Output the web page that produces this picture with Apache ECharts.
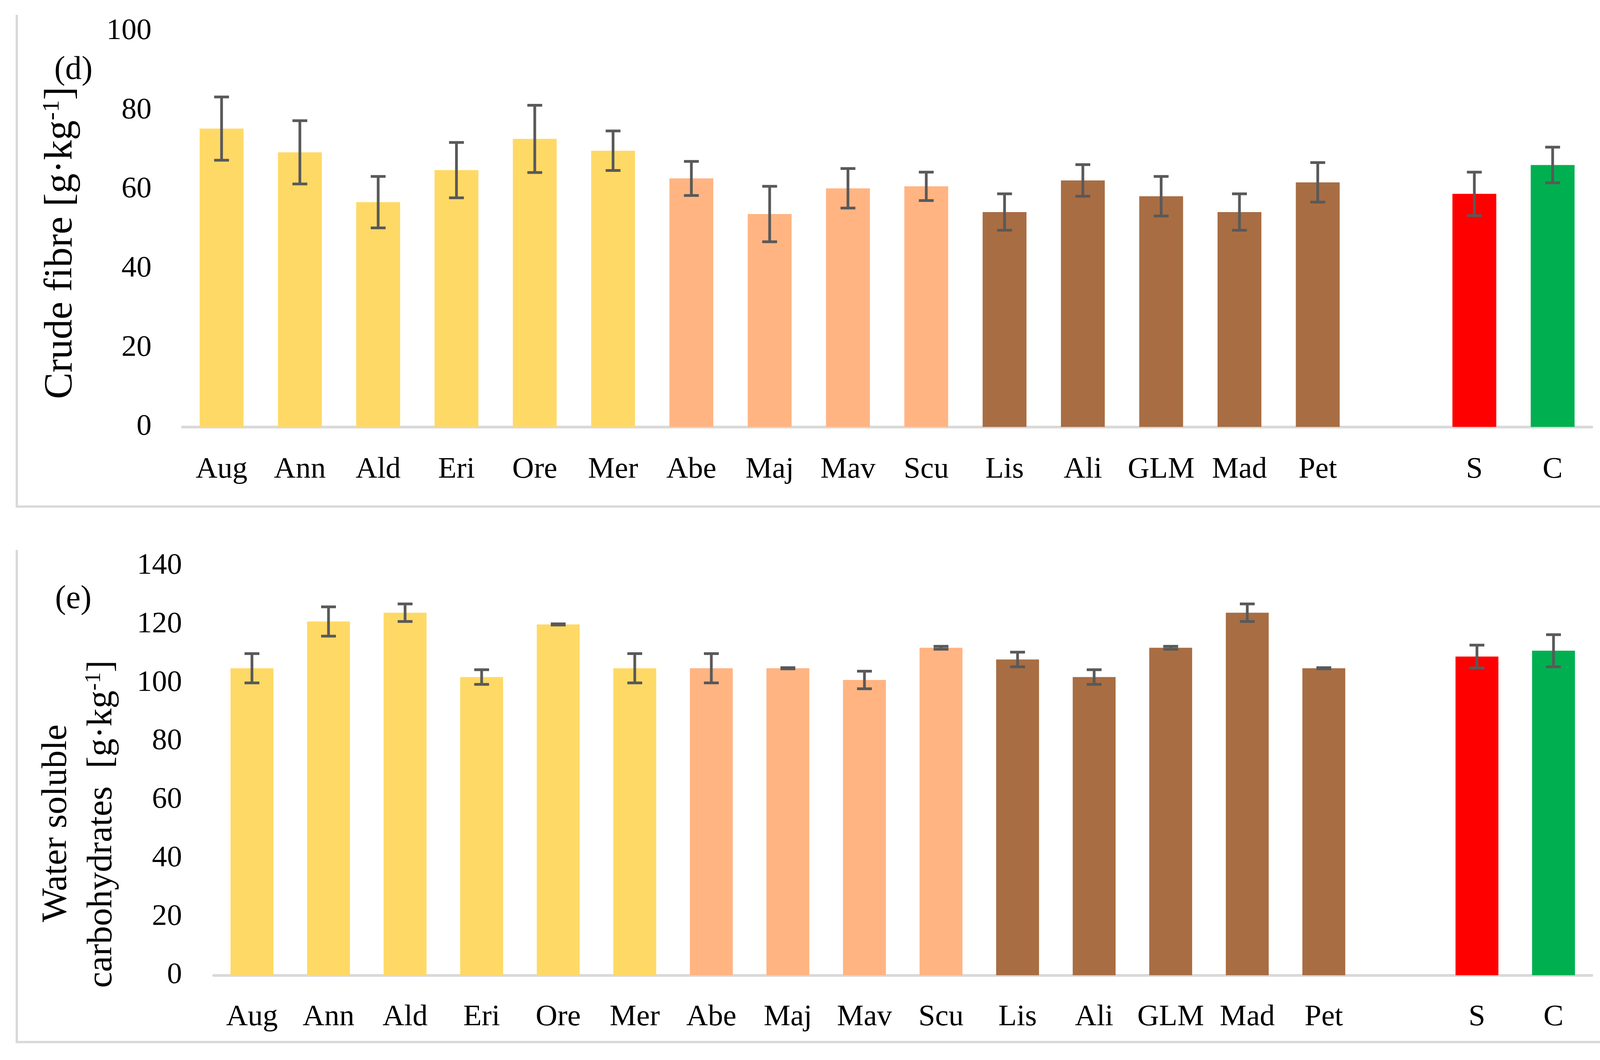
<!DOCTYPE html>
<html>
<head>
<meta charset="utf-8">
<script src="https://cdn.jsdelivr.net/npm/echarts@6/dist/echarts.min.js"></script>
<style>
html,body{margin:0;padding:0;background:#fff;}
#chart{width:4198px;height:2714px;}
</style>
</head>
<body>
<div id="chart"></div>
<script>
// Categories (index 15 is the empty gap between cultivars and S / C)
var categories = ['Aug','Ann','Ald','Eri','Ore','Mer','Abe','Maj','Mav','Scu','Lis','Ali','GLM','Mad','Pet','','S','C'];
// Group of each category (for colour)
var groups = ['Y','Y','Y','Y','Y','Y','P','P','P','P','B','B','B','B','B','','S','C'];
// (d) Crude fibre [g·kg-1]
var fibreValues = [75.4, 69.4, 56.8, 64.9, 72.8, 69.8, 62.8, 53.8, 60.3, 60.8, 54.3, 62.3, 58.3, 54.3, 61.8, null, 58.9, 66.2];
var fibreErrors = [8.0, 8.0, 6.5, 7.0, 8.5, 5.0, 4.3, 7.0, 5.0, 3.6, 4.6, 4.0, 5.0, 4.6, 5.0, null, 5.5, 4.5];
// (e) Water soluble carbohydrates [g·kg-1]
var wscValues = [105, 121, 124, 102, 120, 105, 105, 105, 101, 112, 108, 102, 112, 124, 105, null, 109, 111];
var wscErrors = [5.0, 5.0, 3.0, 2.5, 0.2, 5.0, 5.0, 0.2, 3.0, 0.5, 2.5, 2.5, 0.5, 3.0, 0.2, null, 3.9, 5.5];
// Tick settings
var fibreTicks = {min: 0, max: 100, interval: 20};
var wscTicks = {min: 0, max: 140, interval: 20};

var groupColors = {Y:'#FFD966', P:'#FFB482', B:'#A86D43', S:'#FF0000', C:'#00B050'};
var FONT = "'Liberation Serif', 'Times New Roman', serif";

function barData(vals) {
  return vals.map(function (v, i) {
    if (v === null) return '-';
    return {value: v, itemStyle: {color: groupColors[groups[i]]}};
  });
}
function errData(vals, errs) {
  var out = [];
  vals.forEach(function (v, i) { if (v !== null) out.push([i, v, errs[i]]); });
  return out;
}
function renderErr(params, api) {
  var i = api.value(0), v = api.value(1), e = api.value(2);
  var top = api.coord([i, v + e]);
  var bot = api.coord([i, v - e]);
  var hw = 19;
  var st = {stroke: '#595959', lineWidth: 7};
  return {type: 'group', children: [
    {type: 'line', shape: {x1: top[0], y1: top[1], x2: bot[0], y2: bot[1]}, style: st},
    {type: 'line', shape: {x1: top[0] - hw, y1: top[1], x2: top[0] + hw, y2: top[1]}, style: st},
    {type: 'line', shape: {x1: bot[0] - hw, y1: bot[1], x2: bot[0] + hw, y2: bot[1]}, style: st}
  ]};
}
function xAxisCfg(idx, margin) {
  return {
    type: 'category', gridIndex: idx, data: categories,
    axisTick: {show: false},
    axisLine: {lineStyle: {color: '#D9D9D9', width: 7}},
    axisLabel: {interval: 0, margin: margin, fontFamily: FONT, fontSize: 77, color: '#000'}
  };
}
function yAxisCfg(idx, t, margin) {
  return {
    type: 'value', gridIndex: idx, min: t.min, max: t.max, interval: t.interval,
    splitLine: {show: false}, axisLine: {show: false}, axisTick: {show: false},
    axisLabel: {margin: margin, fontFamily: FONT, fontSize: 77, color: '#000'}
  };
}

var borderStyle = {stroke: '#D9D9D9', lineWidth: 6, fill: null};
var chart = echarts.init(document.getElementById('chart'), null, {renderer: 'canvas'});
chart.setOption({
  backgroundColor: '#ffffff',
  animation: false,
  grid: [
    {left: 467, right: 123, top: 80, height: 1013},
    {left: 547, right: 123, top: 1449, height: 1048}
  ],
  xAxis: [xAxisCfg(0, 71), xAxisCfg(1, 69)],
  yAxis: [yAxisCfg(0, fibreTicks, 79), yAxisCfg(1, wscTicks, 81)],
  series: [
    {type: 'bar', xAxisIndex: 0, yAxisIndex: 0, data: barData(fibreValues), barCategoryGap: '44%', z: 1},
    {type: 'custom', xAxisIndex: 0, yAxisIndex: 0, data: errData(fibreValues, fibreErrors), renderItem: renderErr, clip: false, z: 5},
    {type: 'bar', xAxisIndex: 1, yAxisIndex: 1, data: barData(wscValues), barCategoryGap: '44%', z: 1},
    {type: 'custom', xAxisIndex: 1, yAxisIndex: 1, data: errData(wscValues, wscErrors), renderItem: renderErr, clip: false, z: 5}
  ],
  graphic: [
    {type: 'polyline', shape: {points: [[43, 38], [43, 1297], [4165, 1297], [4165, 38]]}, style: borderStyle, silent: true},
    {type: 'polyline', shape: {points: [[43, 1408], [43, 2668], [4165, 2668], [4165, 1408]]}, style: borderStyle, silent: true},
    {type: 'text', x: 139, y: 180, style: {text: '(d)', font: '84px ' + FONT, fill: '#000', textAlign: 'left', textVerticalAlign: 'middle'}},
    {type: 'text', x: 141, y: 1535, style: {text: '(e)', font: '84px ' + FONT, fill: '#000', textAlign: 'left', textVerticalAlign: 'middle'}},
    {type: 'text', x: 152, y: 622, rotation: Math.PI / 2,
      style: {text: '{n|Crude fibre [g·kg}{s|-1}{n|]}', textAlign: 'center', textVerticalAlign: 'middle', fill: '#000',
        rich: {n: {fontFamily: FONT, fontSize: 102, lineHeight: 110, verticalAlign: 'bottom'},
               s: {fontFamily: FONT, fontSize: 62, lineHeight: 110, verticalAlign: 'top', padding: [6, 0, 0, 0]}}}},
    {type: 'text', x: 145, y: 2108, rotation: Math.PI / 2,
      style: {text: 'Water soluble', font: '92px ' + FONT, fill: '#000', textAlign: 'center', textVerticalAlign: 'middle'}},
    {type: 'text', x: 257, y: 2110, rotation: Math.PI / 2,
      style: {text: '{n|carbohydrates  [g·kg}{s|-1}{n|]}', textAlign: 'center', textVerticalAlign: 'middle', fill: '#000',
        rich: {n: {fontFamily: FONT, fontSize: 92, lineHeight: 100, verticalAlign: 'bottom'},
               s: {fontFamily: FONT, fontSize: 56, lineHeight: 100, verticalAlign: 'top', padding: [6, 0, 0, 0]}}}}
  ]
});
</script>
</body>
</html>
